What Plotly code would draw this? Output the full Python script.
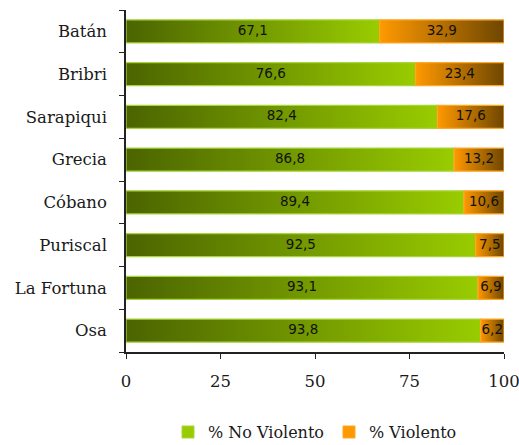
import plotly.graph_objects as go

# Share of non-violent vs. violent cases by locality (percent)
localidades = ["Batán", "Bribri", "Sarapiqui", "Grecia", "Cóbano", "Puriscal", "La Fortuna", "Osa"]
no_violento = [67.1, 76.6, 82.4, 86.8, 89.4, 92.5, 93.1, 93.8]
violento = [32.9, 23.4, 17.6, 13.2, 10.6, 7.5, 6.9, 6.2]
x_ticks = [0, 25, 50, 75, 100]

SERIF = "DejaVu Serif"
SERIES = [
    ("% No Violento", "#4b6400", "#99cc00", "#a8d63a"),
    ("% Violento", "#ff9900", "#6e4600", "#ffa726"),
]
HALF = 0.27  # half bar thickness in category units
n = len(localidades)

def fmt(v):
    return f"{v:.1f}".replace(".", ",")

fig = go.Figure()
ypos = [n - 1 - i for i in range(n)]

for s, (name, c0, c1, edge) in enumerate(SERIES):
    for i, y in enumerate(ypos):
        left = 0 if s == 0 else no_violento[i]
        right = no_violento[i] if s == 0 else no_violento[i] + violento[i]
        fig.add_trace(go.Scatter(
            x=[left, right, right, left, left],
            y=[y - HALF, y - HALF, y + HALF, y + HALF, y - HALF],
            mode="lines", fill="toself",
            line=dict(color=edge, width=1.2),
            fillgradient=dict(type="horizontal", colorscale=[[0, c0], [1, c1]]),
            showlegend=False, hoverinfo="skip",
        ))

# Value labels centred on each segment
fig.add_trace(go.Scatter(
    x=[v / 2 for v in no_violento] + [a + b / 2 for a, b in zip(no_violento, violento)],
    y=ypos + ypos,
    mode="text",
    text=[fmt(v) for v in no_violento] + [fmt(v) for v in violento],
    textfont=dict(family="DejaVu Sans", size=13.5, color="#111111"),
    showlegend=False, hoverinfo="skip",
))

# Legend entries
for name, c0, c1, edge in SERIES:
    fig.add_trace(go.Bar(
        x=[None], y=[None], name=name, orientation="h",
        marker=dict(color=c1 if name.startswith("% No") else c0,
                    line=dict(color=edge, width=1)),
    ))

fig.update_layout(
    width=519, height=445,
    margin=dict(l=126, r=15, t=10, b=93, autoexpand=False),
    plot_bgcolor="white", paper_bgcolor="white",
    showlegend=True,
    legend=dict(orientation="h", x=0.5, xanchor="center",
                yref="container", y=0.029, yanchor="middle",
                font=dict(family=SERIF, size=16, color="#1a1a1a"),
                itemwidth=30, tracegroupgap=0),
    xaxis=dict(range=[0, 100], tickvals=x_ticks, ticktext=[str(t) for t in x_ticks],
               automargin=False, ticklabeloverflow="allow",
               showgrid=False, zeroline=False, showline=True, linecolor="#222222",
               linewidth=1.5, ticks="outside", ticklen=5, tickcolor="#222222",
               ticklabelstandoff=8,
               tickfont=dict(family=SERIF, size=16.5, color="#1a1a1a")),
    yaxis=dict(range=[-0.5, n - 0.5], tickvals=ypos, ticktext=localidades,
               automargin=False,
               showgrid=False, zeroline=False, showline=True, linecolor="#222222",
               linewidth=1.5, ticks="", ticklabelstandoff=14,
               minor=dict(tickvals=[k - 0.5 for k in range(n + 1)], ticks="outside",
                          ticklen=5, tickcolor="#222222", showgrid=False),
               tickfont=dict(family=SERIF, size=16.5, color="#1a1a1a")),
)

fig.write_html("out.html")
